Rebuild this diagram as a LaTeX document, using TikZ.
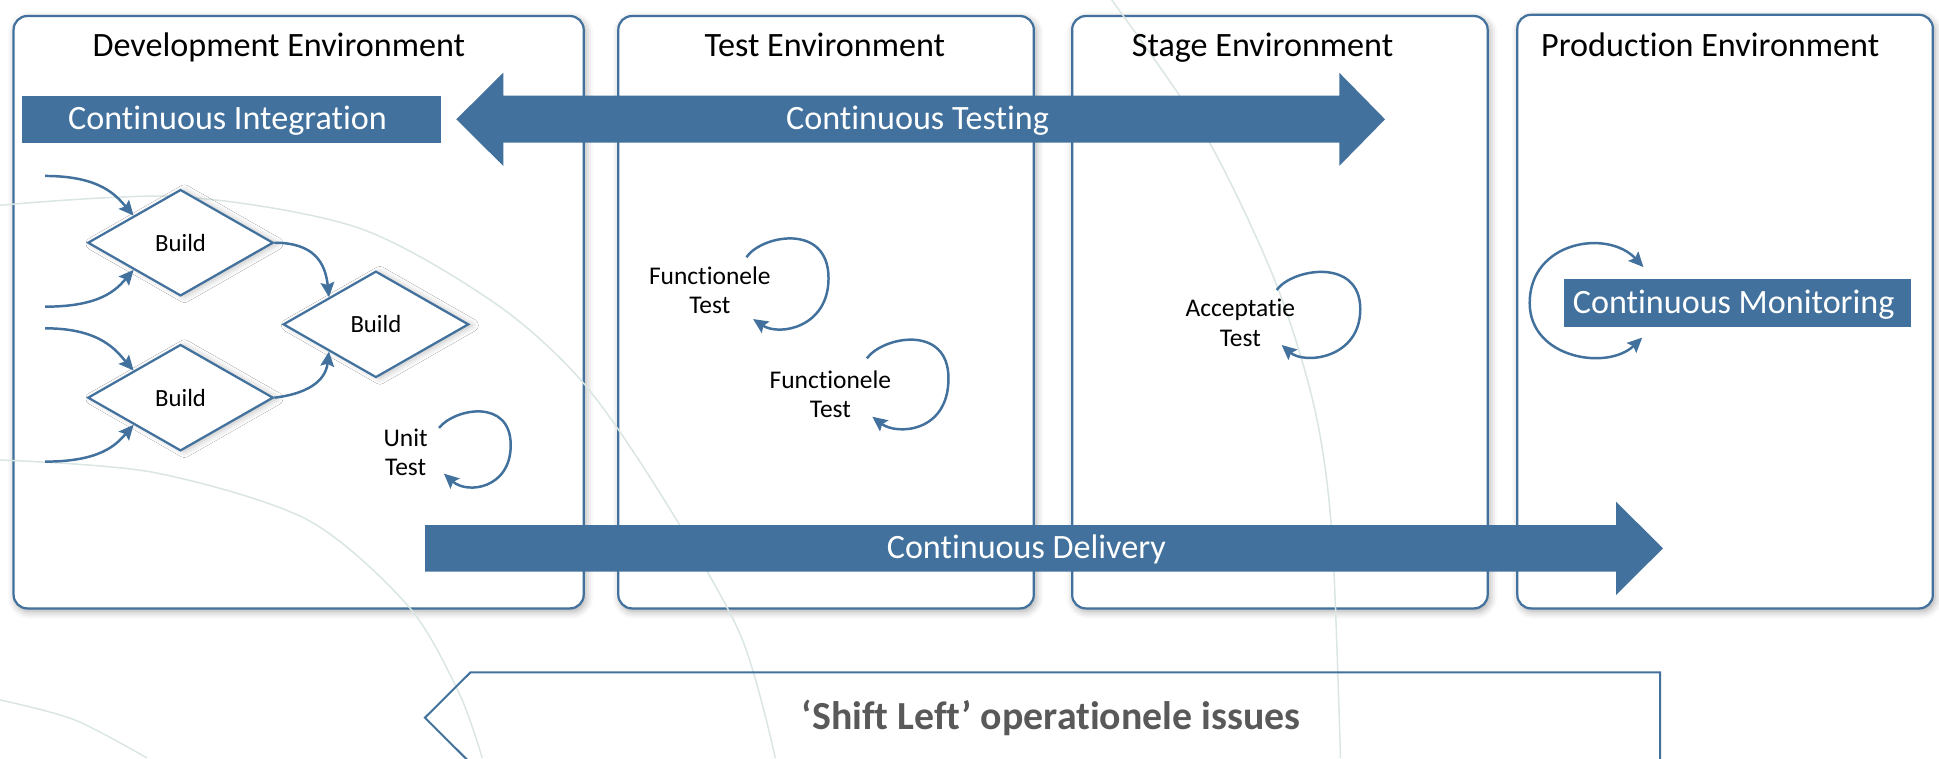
\documentclass[tikz,border=0pt]{standalone}
\usepackage{fontspec}
\setmainfont{Carlito}[Ligatures=NoCommon]
\usetikzlibrary{arrows.meta,shapes.geometric,shadows.blur}
\definecolor{cblue}{RGB}{65,113,156}
\definecolor{arcc}{RGB}{218,230,228}
\definecolor{sgray}{RGB}{89,89,89}
\tikzset{
  panel/.style={draw=cblue, line width=0.9pt, fill=white, rounded corners=5.5pt,
    blur shadow={shadow xshift=0.8pt, shadow yshift=-1.2pt, shadow blur radius=3pt, shadow opacity=35}},
  envtitle/.style={font=\fontsize{13.8}{16}\selectfont, anchor=base, inner sep=0pt},
  bartext/.style={font=\fontsize{13.8}{16}\selectfont, text=white, anchor=base, inner sep=0pt},
  bluebar/.style={fill=cblue, inner sep=0pt},
  build/.style={diamond, draw=cblue, line width=0.9pt, fill=white, minimum width=75pt,
    minimum height=43pt, inner sep=0pt, font=\fontsize{10}{12}\selectfont,
    blur shadow={shadow xshift=1.6pt, shadow yshift=-0.4pt, shadow blur radius=2.5pt, shadow opacity=25}},
  lbl/.style={font=\fontsize{10.3}{11.8}\selectfont, align=center, inner sep=0pt},
  conn/.style={draw=cblue, line width=1pt, -{Stealth[length=6pt,width=5.5pt,inset=1pt]}},
  dconn/.style={draw=cblue, line width=1pt, {Stealth[length=6pt,width=5.5pt,inset=1pt]}-{Stealth[length=6pt,width=5.5pt,inset=1pt]}},
  bgarc/.style={draw=arcc, line width=0.6pt},
}
\begin{document}
\begin{tikzpicture}[x=0.5pt,y=-0.5pt]
\useasboundingbox (0,0) rectangle (1568,613);
\clip (0,0) rectangle (1568,613);

% panels
\node[panel, minimum width=230.5pt, minimum height=239.5pt] (pdev) at (241.5,252.5) {};
\node[panel, minimum width=168pt, minimum height=239.5pt] (ptest) at (668,252.5) {};
\node[panel, minimum width=168pt, minimum height=239.5pt] (pstage) at (1035,252.5) {};
\node[panel, minimum width=168pt, minimum height=240pt] (pprod) at (1395,252) {};

% faint background arcs
\draw[bgarc] plot[smooth] coordinates {(0,166) (145,159) (289,184) (400,245) (472,310) (537,404) (599,514) (627,613)};
\draw[bgarc] plot[smooth] coordinates {(0,372) (124,382) (248,420) (330,490) (371,560) (390,613)};
\draw[bgarc] plot[smooth] coordinates {(0,566) (60,582) (119,613)};
\draw[bgarc] plot[smooth] coordinates {(899,0) (975,110) (1031,227) (1063,330) (1077,431) (1084,613)};

% titles
\node[envtitle] (tdev) at (225.5,46) {Development Environment};
\node[envtitle] (ttest) at (667,46) {Test Environment};
\node[envtitle] (tstage) at (1021,46) {Stage Environment};
\node[envtitle] (tprod) at (1383,46) {Production Environment};

% continuous integration bar
\node[bluebar, minimum width=169.5pt, minimum height=19pt] (cibar) at (187,96.4) {};
\node[bartext] (ci) at (184,104.6) {Continuous Integration};

% continuous testing double arrow
\fill[cblue] (369,96.5) -- (407,58.8) -- (407,77.4) -- (1083,77.4) -- (1083,58.8) -- (1120,96.5)
  -- (1083,134.2) -- (1083,115.4) -- (407,115.4) -- (407,134.2) -- cycle;
\node[bartext] (ct) at (742,104.6) {Continuous Testing};

% continuous delivery arrow
\fill[cblue] (343.7,424.6) -- (1306.8,424.6) -- (1306.8,405.7) -- (1344.8,443.4) -- (1306.8,481.2)
  -- (1306.8,462.3) -- (343.7,462.3) -- cycle;
\node[bartext] (cd) at (830,452) {Continuous Delivery};

% build diamonds
\node[build] (d1) at (146,196.3) {Build};
\node[build] (d2) at (304,262.3) {Build};
\node[build] (d3) at (146,321.6) {Build};

\coordinate (in1) at (36.5,142.3);
\coordinate (in2) at (36.5,248);
\coordinate (in3) at (36.5,265.5);
\coordinate (in4) at (36.5,373.3);
\draw[conn] (in1) .. controls +(45,0) and +(-14,-16) .. (d1.north west);
\draw[conn] (in2) .. controls +(45,0) and +(-14,16) .. (d1.south west);
\draw[conn] (in3) .. controls +(45,0) and +(-14,-16) .. (d3.north west);
\draw[conn] (in4) .. controls +(45,0) and +(-14,16) .. (d3.south west);
\draw[conn] (d1.east) .. controls +(32,0) and +(-3,-28) .. (d2.north west);
\draw[conn] (d3.east) .. controls +(25,-3) and +(-3,25) .. (d2.south west);

% unit test
\node[lbl] (ut) at (328,366) {Unit\\Test};
\coordinate (u1) at (355,346);
\coordinate (u2) at (359,383);
\draw[conn] (u1) .. controls (368,330) and (413,322) .. (413,360) .. controls (413,395) and (378,400) .. (u2);

% functionele tests
\node[lbl] (ft1) at (574,235) {Functionele\\Test};
\coordinate (f1s) at (603.6,208);
\coordinate (f1e) at (609,258);
\draw[conn] (f1s) .. controls (616,190) and (670,180) .. (670,225) .. controls (670,265) and (630,272) .. (f1e);

\node[lbl] (ft2) at (671.5,319) {Functionele\\Test};
\coordinate (f2s) at (701,289.8);
\coordinate (f2e) at (705.4,337);
\draw[conn] (f2s) .. controls (714,272) and (767,262) .. (767,306) .. controls (767,350) and (725,352) .. (f2e);

% acceptatie test
\node[lbl] (at) at (1003,261) {Acceptatie\\Test};
\coordinate (a1) at (1032.4,234.5);
\coordinate (a2) at (1036.4,279);
\draw[conn] (a1) .. controls (1045,217) and (1100,208) .. (1100,250) .. controls (1100,290) and (1055,295) .. (a2);

% continuous monitoring
\node[bluebar, minimum width=140pt, minimum height=19.2pt] (cmbar) at (1405,245) {};
\node[bartext] (cm) at (1402,253.4) {Continuous Monitoring};
\coordinate (m1) at (1329,216);
\coordinate (m2) at (1328,273);
\draw[dconn] (m1) .. controls (1300,185) and (1237,195) .. (1237,245) .. controls (1237,290) and (1300,300) .. (m2);

% shift left box
\draw[draw=cblue, line width=0.8pt] (343.6,580.4) -- (380.5,543.7) -- (1342.5,543.7) -- (1342.5,617.1) -- (380.5,617.1) -- cycle;
\node[font=\bfseries\fontsize{16.1}{19}\selectfont, text=sgray, anchor=base, inner sep=0pt] (shift) at (850,589.7) {‘Shift Left’ operationele issues};
\end{tikzpicture}
\end{document}
